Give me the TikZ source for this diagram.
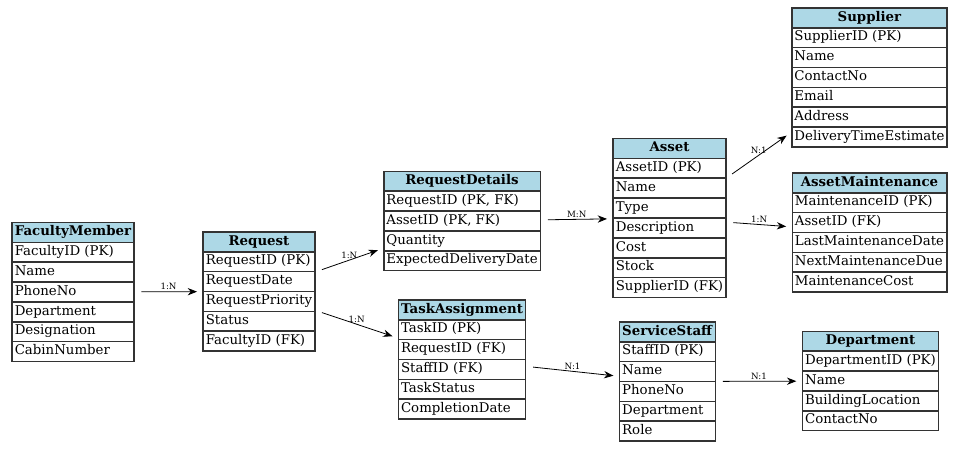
\documentclass[tikz,border=0pt]{standalone}
\usepackage{fontspec}
\setmainfont{DejaVu Serif}
\usetikzlibrary{shapes.multipart,arrows.meta}
\definecolor{hdrblue}{RGB}{173,216,230}
\newcommand{\hd}[1]{\strut\textbf{#1}}
\newcommand{\fld}[1]{\strut #1}

\begin{document}
\begin{tikzpicture}[x=0.75pt,y=-0.75pt,
  tbl/.style={rectangle split,draw=black!80,line width=1.2pt,
    inner xsep=2pt,inner ysep=0.85pt,
    rectangle split part fill={hdrblue,white},
    rectangle split part align={center,left},
    font=\fontsize{10}{12}\selectfont},
  rel/.style={->,>={Stealth[length=7pt,width=5.5pt]},semithick,
    shorten <=5pt,shorten >=4pt},
  card/.style={font=\fontsize{6.5}{8}\selectfont,above,inner sep=1pt}]

\useasboundingbox (0,0) rectangle (960,449);

% tables
\node[tbl,rectangle split parts=7] (fac) at (73,292)
 {\hd{FacultyMember}\nodepart{two}\fld{FacultyID (PK)}\nodepart{three}\fld{Name}
  \nodepart{four}\fld{PhoneNo}\nodepart{five}\fld{Department}
  \nodepart{six}\fld{Designation}\nodepart{seven}\fld{CabinNumber}};
\node[tbl,rectangle split parts=6] (req) at (259,291.5)
 {\hd{Request}\nodepart{two}\fld{RequestID (PK)}\nodepart{three}\fld{RequestDate}
  \nodepart{four}\fld{RequestPriority}\nodepart{five}\fld{Status}
  \nodepart{six}\fld{FacultyID (FK)}};
\node[tbl,rectangle split parts=5] (reqd) at (462,221)
 {\hd{RequestDetails}\nodepart{two}\fld{RequestID (PK, FK)}
  \nodepart{three}\fld{AssetID (PK, FK)}\nodepart{four}\fld{Quantity}
  \nodepart{five}\fld{ExpectedDeliveryDate}};
\node[tbl,rectangle split parts=6] (task) at (462,359.5)
 {\hd{TaskAssignment}\nodepart{two}\fld{TaskID (PK)}\nodepart{three}\fld{RequestID (FK)}
  \nodepart{four}\fld{StaffID (FK)}\nodepart{five}\fld{TaskStatus}
  \nodepart{six}\fld{CompletionDate}};
\node[tbl,rectangle split parts=8] (asset) at (669.5,218)
 {\hd{Asset}\nodepart{two}\fld{AssetID (PK)}\nodepart{three}\fld{Name}
  \nodepart{four}\fld{Type}\nodepart{five}\fld{Description}
  \nodepart{six}\fld{Cost}\nodepart{seven}\fld{Stock}
  \nodepart{eight}\fld{SupplierID (FK)}};
\node[tbl,rectangle split parts=6] (staff) at (667.5,381.5)
 {\hd{ServiceStaff}\nodepart{two}\fld{StaffID (PK)}\nodepart{three}\fld{Name}
  \nodepart{four}\fld{PhoneNo}\nodepart{five}\fld{Department}
  \nodepart{six}\fld{Role}};
\node[tbl,rectangle split parts=7] (supp) at (869.5,77.5)
 {\hd{Supplier}\nodepart{two}\fld{SupplierID (PK)}\nodepart{three}\fld{Name}
  \nodepart{four}\fld{ContactNo}\nodepart{five}\fld{Email}
  \nodepart{six}\fld{Address}\nodepart{seven}\fld{DeliveryTimeEstimate}};
\node[tbl,rectangle split parts=6] (maint) at (869.5,232.5)
 {\hd{AssetMaintenance}\nodepart{two}\fld{MaintenanceID (PK)}
  \nodepart{three}\fld{AssetID (FK)}\nodepart{four}\fld{LastMaintenanceDate}
  \nodepart{five}\fld{NextMaintenanceDue}\nodepart{six}\fld{MaintenanceCost}};
\node[tbl,rectangle split parts=5] (dept) at (870.5,381)
 {\hd{Department}\nodepart{two}\fld{DepartmentID (PK)}\nodepart{three}\fld{Name}
  \nodepart{four}\fld{BuildingLocation}\nodepart{five}\fld{ContactNo}};

% relationships
\draw[rel] (fac) -- node[card] {1:N} (req);
\draw[rel] (req) -- node[card] {1:N} (reqd);
\draw[rel] (req) -- node[card] {1:N} (task);
\draw[rel] (reqd) -- node[card] {M:N} (asset);
\draw[rel] (asset) -- node[card] {N:1} (supp);
\draw[rel] (asset) -- node[card] {1:N} (maint);
\draw[rel] (task) -- node[card] {N:1} (staff);
\draw[rel] (staff) -- node[card] {N:1} (dept);

\end{tikzpicture}
\end{document}
